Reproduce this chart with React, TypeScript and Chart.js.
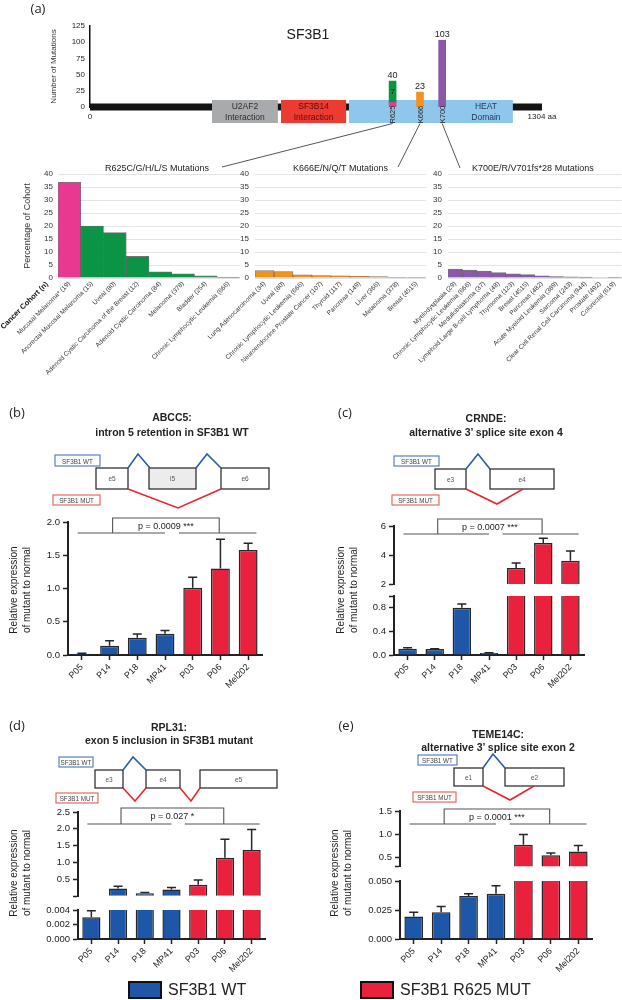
import React, { useEffect, useRef } from "react";
import { Chart, registerables } from "chart.js";

Chart.register(...registerables);

const SANS = "'Liberation Sans', Arial, Helvetica, sans-serif";
Chart.defaults.font.family = SANS;
Chart.defaults.color = "#222";

/* ---------------- (a) SF3B1 protein map ---------------- */
const proteinLengthAa = 1304;
const mutationAxisTicks = [0, 25, 50, 75, 100, 125];
const hotspotLabels = ["R625", "K666", "K700"];
const hotspotDiagramPos = [873, 952, 1016];
const hotspotCounts = [40, 23, 103];
const r625MucosalMelanomaCount = 7;
const domainTitles = ["U2AF2", "SF3B14", "HEAT"];
const domainSubtitles = ["Interaction", "Interaction", "Domain"];
const domainStart = [352, 551, 747];
const domainEnd = [542, 739, 1220];

/* ---------------- (a) cohort frequencies ---------------- */
const cohortTicks = [0, 5, 10, 15, 20, 25, 30, 35, 40];
const r625Cohorts = [
  "Mucosal Melanoma* (19)",
  "Anorectal Mucosal Melanoma (15)",
  "Uveal (80)",
  "Adenoid Cystic Carcinoma of the Breast (12)",
  "Adenoid Cystic Carcinoma (84)",
  "Melanoma (378)",
  "Bladder (254)",
  "Chronic Lymphocytic Leukemia (666)",
];
const r625Percent = [36.8, 20.0, 17.5, 8.3, 2.4, 1.6, 0.8, 0.3];
const k666Cohorts = [
  "Lung Adenocarcinoma (34)",
  "Uveal (80)",
  "Chronic Lymphocytic Leukemia (666)",
  "Neuroendocrine Prostate Cancer (107)",
  "Thyroid (117)",
  "Pancreas (149)",
  "Liver (366)",
  "Melanoma (378)",
  "Breast (4515)",
];
const k666Percent = [2.9, 2.5, 1.2, 0.93, 0.85, 0.67, 0.55, 0.26, 0.09];
const k700Cohorts = [
  "Myelodysplasia (29)",
  "Chronic Lymphocytic Leukemia (666)",
  "Medulloblastoma (37)",
  "Lymphoid Large B-cell Lymphoma (48)",
  "Thymoma (123)",
  "Breast (4515)",
  "Pancreas (482)",
  "Acute Myeloid Leukemia (389)",
  "Sarcoma (243)",
  "Clear Cell Renal Cell Carcinoma (944)",
  "Prostate (492)",
  "Colorectal (619)",
];
const k700Percent = [3.4, 3.0, 2.7, 2.1, 1.6, 1.3, 0.83, 0.51, 0.41, 0.32, 0.2, 0.16];

/* ---------------- (b)-(e) qPCR ---------------- */
const cellLines = ["P05", "P14", "P18", "MP41", "P03", "P06", "Mel202"];
const genotype = ["WT", "WT", "WT", "WT", "MUT", "MUT", "MUT"];

const abcc5Mean = [0.02, 0.14, 0.26, 0.32, 1.01, 1.3, 1.58];
const abcc5Err = [0.006, 0.075, 0.055, 0.05, 0.16, 0.44, 0.1];
const abcc5Ticks = [0, 0.5, 1.0, 1.5, 2.0];
const abcc5TickLabels = ["0.0", "0.5", "1.0", "1.5", "2.0"];
const abcc5P = "p = 0.0009 ***";

const crndeMean = [0.105, 0.1, 0.8, 0.035, 3.1, 4.83, 3.6];
const crndeErr = [0.02, 0.008, 0.065, 0.005, 0.35, 0.32, 0.68];
const crndeUpperTicks = [2, 4, 6];
const crndeUpperTickLabels = ["2", "4", "6"];
const crndeLowerTicks = [0, 0.4, 0.8, 1.0];
const crndeLowerTickLabels = ["0.0", "0.4", "0.8", ""];
const crndeP = "p = 0.0007 ***";

const rpl31Mean = [0.003, 0.23, 0.09, 0.2, 0.34, 1.14, 1.37];
const rpl31Err = [0.0009, 0.07, 0.02, 0.06, 0.14, 0.55, 0.61];
const rpl31UpperTicks = [0, 0.5, 1.0, 1.5, 2.0, 2.5];
const rpl31UpperTickLabels = ["", "0.5", "1.0", "1.5", "2.0", "2.5"];
const rpl31LowerTicks = [0, 0.002, 0.004];
const rpl31LowerTickLabels = ["0.000", "0.002", "0.004"];
const rpl31P = "p = 0.027 *";

const teme14cMean = [0.0195, 0.023, 0.037, 0.039, 0.77, 0.54, 0.62];
const teme14cErr = [0.0035, 0.005, 0.002, 0.007, 0.22, 0.05, 0.13];
const teme14cUpperTicks = [0.3, 0.5, 1.0, 1.5];
const teme14cUpperTickLabels = ["", "0.5", "1.0", "1.5"];
const teme14cLowerTicks = [0, 0.025, 0.05];
const teme14cLowerTickLabels = ["0.000", "0.025", "0.050"];
const teme14cP = "p = 0.0001 ***";

/* ---------------- styles ---------------- */
const BLUE = "#1f57a8";
const RED = "#e9213d";
const PINK = "#e8388f";
const GREEN = "#0b9446";
const ORANGE = "#f3931f";
const PURPLE = "#8b57aa";
const DOMAIN_FILL = ["#a8aaad", "#ec3b30", "#8fc7ec"];
const DOMAIN_TEXT = ["#2e2e2e", "#5c0d0d", "#1f3650"];

type Box = { left: number; top: number; width: number; height: number };
type Area = { l: number; t: number; r: number; b: number };

function spacing(box: Box, a: Area) {
  return {
    yW: a.l - box.left,
    pt: a.t - box.top,
    pr: box.left + box.width - a.r,
    pb: box.top + box.height - a.b,
  };
}

function ChartCanvas({ box, build }: { box: Box; build: () => any }) {
  const ref = useRef<HTMLCanvasElement | null>(null);
  useEffect(() => {
    if (!ref.current) return;
    const chart = new Chart(ref.current, build());
    return () => chart.destroy();
  }, []);
  return (
    <canvas
      ref={ref}
      width={box.width}
      height={box.height}
      style={{ position: "absolute", left: box.left, top: box.top, width: box.width, height: box.height }}
    />
  );
}

/* ---------------- plugins ---------------- */
const proteinMapPlugin = {
  id: "proteinMap",
  beforeDatasetsDraw(chart: any) {
    const { ctx } = chart;
    const xs = chart.scales.x;
    const ys = chart.scales.y;
    const y0 = ys.getPixelForValue(0);
    ctx.save();
    ctx.fillStyle = "#141414";
    const bx0 = xs.getPixelForValue(0);
    const bx1 = xs.getPixelForValue(proteinLengthAa);
    ctx.fillRect(bx0, y0 - 3.5, bx1 - bx0, 7);
    domainStart.forEach((s, i) => {
      const x0 = xs.getPixelForValue(s);
      const x1 = xs.getPixelForValue(domainEnd[i]);
      ctx.fillStyle = DOMAIN_FILL[i];
      ctx.fillRect(x0, y0 - 7, x1 - x0, 23);
    });
    ctx.restore();
  },
  afterDatasetsDraw(chart: any) {
    const { ctx } = chart;
    const xs = chart.scales.x;
    const ys = chart.scales.y;
    const y0 = ys.getPixelForValue(0);
    ctx.save();
    ctx.textAlign = "center";
    ctx.textBaseline = "middle";
    domainStart.forEach((s, i) => {
      const cx = (xs.getPixelForValue(s) + xs.getPixelForValue(domainEnd[i])) / 2;
      ctx.fillStyle = DOMAIN_TEXT[i];
      ctx.font = `8.5px ${SANS}`;
      ctx.fillText(domainTitles[i], cx + (i === 2 ? 55 : 0), y0 - 0.5);
      ctx.fillText(domainSubtitles[i], cx + (i === 2 ? 55 : 0), y0 + 10.5);
    });
    hotspotDiagramPos.forEach((p, i) => {
      const x = xs.getPixelForValue(p);
      ctx.save();
      ctx.translate(x, y0 + 7.5);
      ctx.rotate(-Math.PI / 2);
      ctx.fillStyle = "#222";
      ctx.font = `7.5px ${SANS}`;
      ctx.fillText(hotspotLabels[i], 0, 0.5);
      ctx.restore();
      ctx.font = `9px ${SANS}`;
      ctx.fillStyle = "#222";
      ctx.textBaseline = "bottom";
      ctx.fillText(String(hotspotCounts[i]), x, ys.getPixelForValue(hotspotCounts[i]) - 1.5);
      ctx.textBaseline = "middle";
    });
    const xr = xs.getPixelForValue(hotspotDiagramPos[0]);
    ctx.font = `8px ${SANS}`;
    ctx.fillStyle = "#111";
    ctx.fillText(
      String(r625MucosalMelanomaCount),
      xr,
      ys.getPixelForValue((r625MucosalMelanomaCount + hotspotCounts[0]) / 2)
    );
    ctx.font = `14px ${SANS}`;
    ctx.fillStyle = "#1a1a1a";
    ctx.fillText("SF3B1", 308, 35);
    const targets = [
      [222, 167],
      [398, 167],
      [460, 168],
    ];
    ctx.strokeStyle = "#555";
    ctx.lineWidth = 1;
    hotspotDiagramPos.forEach((p, i) => {
      ctx.beginPath();
      ctx.moveTo(xs.getPixelForValue(p), y0 + 16.5);
      ctx.lineTo(targets[i][0], targets[i][1]);
      ctx.stroke();
    });
    ctx.restore();
  },
};

const cohortPanelPlugin = {
  id: "cohortPanel",
  afterDraw(chart: any, _a: any, o: any) {
    const { ctx, chartArea } = chart;
    ctx.save();
    ctx.font = `9px ${SANS}`;
    ctx.fillStyle = "#222";
    ctx.textAlign = "center";
    ctx.textBaseline = "middle";
    ctx.fillText(o.title, (chartArea.left + chartArea.right) / 2 + o.dx, chartArea.top - 5);
    if (o.axisLabel) {
      ctx.translate(chartArea.left - 11, chartArea.bottom + 5);
      ctx.rotate(-Math.PI / 4);
      ctx.font = `bold 7.5px ${SANS}`;
      ctx.textAlign = "right";
      ctx.fillStyle = "#111";
      ctx.fillText(o.axisLabel, 0, 0);
    }
    ctx.restore();
  },
};

const errorBarPlugin = {
  id: "errBars",
  afterDatasetsDraw(chart: any, _a: any, o: any) {
    if (!o || !o.errors) return;
    const { ctx, chartArea } = chart;
    const ys = chart.scales.y;
    const meta = chart.getDatasetMeta(0);
    const data = chart.data.datasets[0].data;
    ctx.save();
    ctx.beginPath();
    ctx.rect(chartArea.left, chartArea.top - 1, chartArea.right - chartArea.left, chartArea.bottom - chartArea.top + 1);
    ctx.clip();
    ctx.strokeStyle = "#262626";
    ctx.lineWidth = 1.5;
    meta.data.forEach((bar: any, i: number) => {
      const v = data[i];
      if (v == null) return;
      const e = o.errors[i];
      const x = bar.x;
      const ya = ys.getPixelForValue(v);
      const yb = ys.getPixelForValue(v + e);
      ctx.beginPath();
      ctx.moveTo(x, ya);
      ctx.lineTo(x, yb);
      ctx.moveTo(x - 4.5, yb);
      ctx.lineTo(x + 4.5, yb);
      ctx.stroke();
    });
    ctx.restore();
  },
};

const bracketPlugin = {
  id: "sigBracket",
  afterDraw(chart: any, _a: any, o: any) {
    if (!o || !o.text) return;
    const xs = chart.scales.x;
    const { ctx, chartArea } = chart;
    const wtIdx = genotype.map((g, i) => (g === "WT" ? i : -1)).filter((i) => i >= 0);
    const mutIdx = genotype.map((g, i) => (g !== "WT" ? i : -1)).filter((i) => i >= 0);
    const slot = xs.getPixelForValue(1) - xs.getPixelForValue(0);
    const w0 = xs.getPixelForValue(wtIdx[0]) - slot * 0.15;
    const w1 = xs.getPixelForValue(wtIdx[wtIdx.length - 1]);
    const m0 = xs.getPixelForValue(mutIdx[0]) - slot * 0.5;
    const m1 = xs.getPixelForValue(mutIdx[mutIdx.length - 1]) + slot * 0.3;
    const yl = chartArea.top + o.lineDy;
    const yt = chartArea.top + o.topDy;
    const b0 = w0 + (w1 - w0) * 0.4;
    const b1 = m0 + (m1 - m0) * 0.52;
    ctx.save();
    ctx.strokeStyle = "#555";
    ctx.lineWidth = 1.1;
    ctx.beginPath();
    ctx.moveTo(w0, yl);
    ctx.lineTo(w1, yl);
    ctx.moveTo(m0, yl);
    ctx.lineTo(m1, yl);
    ctx.moveTo(b0, yl);
    ctx.lineTo(b0, yt);
    ctx.lineTo(b1, yt);
    ctx.lineTo(b1, yl);
    ctx.stroke();
    ctx.fillStyle = "#222";
    ctx.font = `9px ${SANS}`;
    ctx.textAlign = "center";
    ctx.textBaseline = "middle";
    ctx.fillText(o.text, (b0 + b1) / 2, (yl + yt) / 2 + 1);
    ctx.restore();
  },
};

/* ---------------- chart builders ---------------- */
function proteinConfig() {
  return {
    type: "bar",
    data: {
      datasets: [
        { data: [{ x: hotspotDiagramPos[0], y: [0, r625MucosalMelanomaCount] }], backgroundColor: PINK },
        { data: [{ x: hotspotDiagramPos[0], y: [r625MucosalMelanomaCount, hotspotCounts[0]] }], backgroundColor: GREEN },
        { data: [{ x: hotspotDiagramPos[1], y: [0, hotspotCounts[1]] }], backgroundColor: ORANGE },
        { data: [{ x: hotspotDiagramPos[2], y: [0, hotspotCounts[2]] }], backgroundColor: PURPLE },
      ],
    },
    options: {
      responsive: false,
      animation: false,
      events: [],
      datasets: { bar: { grouped: false, barThickness: 7, borderWidth: 0 } },
      layout: { padding: { left: 0, top: 26, right: 80, bottom: 45 } },
      plugins: { legend: { display: false }, tooltip: { enabled: false } },
      scales: {
        x: {
          type: "linear",
          offset: false,
          min: 0,
          max: proteinLengthAa,
          afterBuildTicks: (s: any) => {
            s.ticks = [{ value: 0 }, { value: proteinLengthAa }];
          },
          afterFit: (s: any) => {
            s.height = 20;
          },
          ticks: {
            callback: (v: any) => (v === proteinLengthAa ? `${proteinLengthAa} aa` : String(v)),
            font: { size: 8 },
            color: "#222",
            padding: 5,
          },
          grid: { display: false, drawTicks: false, offset: false },
          border: { display: false },
        },
        y: {
          min: 0,
          max: 125,
          afterBuildTicks: (s: any) => {
            s.ticks = mutationAxisTicks.map((v) => ({ value: v }));
          },
          afterFit: (s: any) => {
            s.width = 90;
          },
          ticks: { font: { size: 8 }, color: "#222", padding: 5 },
          grid: { display: false, drawTicks: false },
          border: { display: true, color: "#111", width: 1.5 },
          title: {
            display: true,
            text: "Number of Mutations",
            font: { size: 8 },
            color: "#333",
            padding: { top: 49, bottom: 0 },
          },
        },
      },
    },
    plugins: [proteinMapPlugin],
  };
}

function cohortConfig(
  box: Box,
  area: Area,
  labels: string[],
  values: number[],
  colors: string[],
  title: string,
  dx: number,
  tickPad: number,
  yTitle: string | null,
  axisLabel: string
) {
  const s = spacing(box, area);
  return {
    type: "bar",
    data: {
      labels,
      datasets: [
        {
          data: values,
          backgroundColor: colors,
          borderColor: "rgba(25,25,25,0.6)",
          borderWidth: 0.8,
          barPercentage: 1,
          categoryPercentage: 1,
        },
      ],
    },
    options: {
      responsive: false,
      animation: false,
      events: [],
      layout: { padding: { left: 0, top: s.pt, right: s.pr, bottom: 0 } },
      plugins: {
        legend: { display: false },
        tooltip: { enabled: false },
        cohortPanel: { title, dx, axisLabel },
      },
      scales: {
        x: {
          afterFit: (sc: any) => {
            sc.height = s.pb;
          },
          grid: { display: false, drawTicks: false },
          border: { display: false },
          ticks: {
            font: { size: 6.5 },
            color: "#333",
            minRotation: 45,
            maxRotation: 45,
            autoSkip: false,
            padding: 2,
          },
        },
        y: {
          min: 0,
          max: 40,
          afterBuildTicks: (sc: any) => {
            sc.ticks = cohortTicks.map((v) => ({ value: v }));
          },
          afterFit: (sc: any) => {
            sc.width = s.yW;
          },
          grid: { color: "#e4e4e4", drawTicks: false },
          border: { display: false },
          ticks: { font: { size: 8 }, color: "#333", padding: tickPad },
          title: yTitle
            ? { display: true, text: yTitle, font: { size: 9 }, color: "#333", padding: { top: 22, bottom: 0 } }
            : { display: false },
        },
      },
    },
    plugins: [cohortPanelPlugin],
  };
}

function exprConfig(p: {
  box: Box;
  area: Area;
  values: (number | null)[];
  errors: number[];
  min: number;
  max: number;
  ticks: number[];
  tickLabels: string[];
  showX: boolean;
  bracket?: { text: string; lineDy: number; topDy: number };
}) {
  const s = spacing(p.box, p.area);
  const x: any = {
    display: p.showX,
    grid: { display: true, offset: false, drawOnChartArea: false, tickLength: 5, tickWidth: 1.5, tickColor: "#222" },
    border: { display: true, color: "#222", width: 2 },
    ticks: { font: { size: 9 }, color: "#222", minRotation: 45, maxRotation: 45, autoSkip: false, padding: 2 },
  };
  if (p.showX) {
    x.afterFit = (sc: any) => {
      sc.height = s.pb;
    };
  }
  return {
    type: "bar",
    data: {
      labels: cellLines,
      datasets: [
        {
          data: p.values,
          backgroundColor: genotype.map((g) => (g === "WT" ? BLUE : RED)),
          borderColor: "#262626",
          borderWidth: 1.5,
          barPercentage: 0.68,
          categoryPercentage: 1,
        },
      ],
    },
    options: {
      responsive: false,
      animation: false,
      events: [],
      layout: { padding: { left: 0, top: s.pt, right: s.pr, bottom: p.showX ? 0 : s.pb } },
      plugins: {
        legend: { display: false },
        tooltip: { enabled: false },
        errBars: { errors: p.errors },
        sigBracket: p.bracket || { text: "" },
      },
      scales: {
        x,
        y: {
          min: p.min,
          max: p.max,
          afterBuildTicks: (sc: any) => {
            sc.ticks = p.ticks.map((v) => ({ value: v }));
          },
          afterFit: (sc: any) => {
            sc.width = s.yW;
          },
          ticks: {
            callback: (_v: any, i: number) => p.tickLabels[i] ?? "",
            font: { size: 9.5 },
            color: "#222",
            padding: 3,
          },
          grid: { display: true, drawOnChartArea: false, tickLength: 5, tickWidth: 1.5, tickColor: "#222" },
          border: { display: true, color: "#222", width: 2 },
        },
      },
    },
    plugins: [errorBarPlugin, bracketPlugin],
  };
}

const aboveBreak = (vals: number[], breakAt: number) => vals.map((v) => (v > breakAt ? v : null));

/* ---------------- layout ---------------- */
const boxes = {
  protein: { left: 0, top: 0, width: 622, height: 172 },
  r625: { left: 0, top: 150, width: 250, height: 240 },
  k666: { left: 200, top: 150, width: 232, height: 240 },
  k700: { left: 378, top: 150, width: 244, height: 240 },
  b: { left: 20, top: 505, width: 262, height: 200 },
  cU: { left: 350, top: 505, width: 252, height: 90 },
  cL: { left: 350, top: 585, width: 252, height: 120 },
  dU: { left: 30, top: 795, width: 250, height: 110 },
  dL: { left: 30, top: 900, width: 250, height: 100 },
  eU: { left: 350, top: 795, width: 262, height: 80 },
  eL: { left: 350, top: 872, width: 262, height: 128 },
};

const geneDiagrams = [
  {
    wt: [55, 455, 45, 11],
    mut: [53, 495, 47, 10],
    top: 468,
    bottom: 489,
    exons: [
      { x0: 96, x1: 128, name: "e5", shaded: false },
      { x0: 149, x1: 196, name: "i5", shaded: true },
      { x0: 221, x1: 269, name: "e6", shaded: false },
    ],
    blue: ["128,468 138,454 150,468", "196,468 207,454 221,468"],
    red: ["128,489 178,508 221,489"],
  },
  {
    wt: [394, 456, 45, 10],
    mut: [392, 495, 47, 10],
    top: 469,
    bottom: 489,
    exons: [
      { x0: 435, x1: 466, name: "e3", shaded: false },
      { x0: 490, x1: 554, name: "e4", shaded: false },
    ],
    blue: ["466,469 478,454 490,469"],
    red: ["466,489 497,504 523,489"],
  },
  {
    wt: [59, 757, 34, 10],
    mut: [56, 793, 42, 10],
    top: 770,
    bottom: 788,
    exons: [
      { x0: 95, x1: 123, name: "e3", shaded: false },
      { x0: 146, x1: 180, name: "e4", shaded: false },
      { x0: 200, x1: 277, name: "e5", shaded: false },
    ],
    blue: ["123,770 133,757 146,770"],
    red: ["123,788 135,801 146,788", "180,788 191,801 200,788"],
  },
  {
    wt: [418, 755, 39, 10],
    mut: [413, 792, 43, 10],
    top: 768,
    bottom: 786,
    exons: [
      { x0: 454, x1: 483, name: "e1", shaded: false },
      { x0: 505, x1: 564, name: "e2", shaded: false },
    ],
    blue: ["483,768 493,754 505,768"],
    red: ["483,786 510,800 534,786"],
  },
];

function Txt(props: {
  x: number;
  y: number;
  size: number;
  children: any;
  align?: "center" | "left" | "right";
  weight?: number;
  family?: string;
  color?: string;
}) {
  const { x, y, size, children, align = "center", weight = 400, family = SANS, color = "#222" } = props;
  const w = 400;
  const left = align === "center" ? x - w / 2 : align === "left" ? x : x - w;
  return (
    <div
      style={{
        position: "absolute",
        left,
        top: y - size * 0.6,
        width: w,
        textAlign: align,
        fontSize: size,
        lineHeight: `${size * 1.2}px`,
        fontWeight: weight,
        fontFamily: family,
        color,
        whiteSpace: "nowrap",
      }}
    >
      {children}
    </div>
  );
}

function YTitle({ cx, cy }: { cx: number; cy: number }) {
  return (
    <div
      style={{
        position: "absolute",
        left: cx - 80,
        top: cy - 13,
        width: 160,
        height: 26,
        transform: "rotate(-90deg)",
        textAlign: "center",
        fontFamily: SANS,
        fontSize: 10,
        lineHeight: "13px",
        color: "#222",
        whiteSpace: "nowrap",
      }}
    >
      Relative expression
      <br />
      of mutant to normal
    </div>
  );
}

function PanelTitle({ cx, y1, y2, l1, l2 }: { cx: number; y1: number; y2: number; l1: string; l2: string }) {
  return (
    <>
      <Txt x={cx} y={y1} size={10.5} weight={700}>
        {l1}
      </Txt>
      <Txt x={cx} y={y2} size={10.5} weight={700}>
        {l2}
      </Txt>
    </>
  );
}

const LETTER_FONT = "'Open Sans', 'DejaVu Sans', sans-serif";

export default function App() {
  return (
    <div
      style={{
        position: "absolute",
        left: 0,
        top: 0,
        width: 622,
        height: 1000,
        background: "#fff",
        overflow: "hidden",
        fontFamily: SANS,
      }}
    >
      <ChartCanvas box={boxes.protein} build={proteinConfig} />
      <ChartCanvas
        box={boxes.r625}
        build={() =>
          cohortConfig(
            boxes.r625,
            { l: 58, t: 174, r: 240, b: 278 },
            r625Cohorts,
            r625Percent,
            r625Percent.map((_v, i) => (i === 0 ? PINK : GREEN)),
            "R625C/G/H/L/S Mutations",
            8,
            5,
            "Percentage of Cohort",
            "Cancer Cohort (n)"
          )
        }
      />
      <ChartCanvas
        box={boxes.k666}
        build={() =>
          cohortConfig(
            boxes.k666,
            { l: 255, t: 174, r: 426, b: 278 },
            k666Cohorts,
            k666Percent,
            k666Percent.map(() => ORANGE),
            "K666E/N/Q/T Mutations",
            0,
            6,
            null,
            ""
          )
        }
      />
      <ChartCanvas
        box={boxes.k700}
        build={() =>
          cohortConfig(
            boxes.k700,
            { l: 448, t: 174, r: 622, b: 278 },
            k700Cohorts,
            k700Percent,
            k700Percent.map(() => PURPLE),
            "K700E/R/V701fs*28 Mutations",
            -2,
            6,
            null,
            ""
          )
        }
      />

      <ChartCanvas
        box={boxes.b}
        build={() =>
          exprConfig({
            box: boxes.b,
            area: { l: 68, t: 522, r: 262, b: 655 },
            values: abcc5Mean,
            errors: abcc5Err,
            min: 0,
            max: 2.0,
            ticks: abcc5Ticks,
            tickLabels: abcc5TickLabels,
            showX: true,
            bracket: { text: abcc5P, lineDy: 11, topDy: -4 },
          })
        }
      />
      <ChartCanvas
        box={boxes.cU}
        build={() =>
          exprConfig({
            box: boxes.cU,
            area: { l: 394, t: 526, r: 584, b: 584 },
            values: aboveBreak(crndeMean, crndeLowerTicks[crndeLowerTicks.length - 1]),
            errors: crndeErr,
            min: crndeUpperTicks[0],
            max: crndeUpperTicks[crndeUpperTicks.length - 1],
            ticks: crndeUpperTicks,
            tickLabels: crndeUpperTickLabels,
            showX: false,
            bracket: { text: crndeP, lineDy: 8, topDy: -7 },
          })
        }
      />
      <ChartCanvas
        box={boxes.cL}
        build={() =>
          exprConfig({
            box: boxes.cL,
            area: { l: 394, t: 596, r: 584, b: 655 },
            values: crndeMean,
            errors: crndeErr,
            min: 0,
            max: crndeLowerTicks[crndeLowerTicks.length - 1],
            ticks: crndeLowerTicks,
            tickLabels: crndeLowerTickLabels,
            showX: true,
          })
        }
      />
      <ChartCanvas
        box={boxes.dU}
        build={() =>
          exprConfig({
            box: boxes.dU,
            area: { l: 78, t: 812, r: 265, b: 898 },
            values: aboveBreak(rpl31Mean, rpl31LowerTicks[rpl31LowerTicks.length - 1]),
            errors: rpl31Err,
            min: rpl31UpperTicks[0],
            max: rpl31UpperTicks[rpl31UpperTicks.length - 1],
            ticks: rpl31UpperTicks,
            tickLabels: rpl31UpperTickLabels,
            showX: false,
            bracket: { text: rpl31P, lineDy: 12, topDy: -4 },
          })
        }
      />
      <ChartCanvas
        box={boxes.dL}
        build={() =>
          exprConfig({
            box: boxes.dL,
            area: { l: 78, t: 910, r: 265, b: 939 },
            values: rpl31Mean,
            errors: rpl31Err,
            min: 0,
            max: rpl31LowerTicks[rpl31LowerTicks.length - 1],
            ticks: rpl31LowerTicks,
            tickLabels: rpl31LowerTickLabels,
            showX: true,
          })
        }
      />
      <ChartCanvas
        box={boxes.eU}
        build={() =>
          exprConfig({
            box: boxes.eU,
            area: { l: 400, t: 811, r: 592, b: 868 },
            values: aboveBreak(teme14cMean, teme14cLowerTicks[teme14cLowerTicks.length - 1]),
            errors: teme14cErr,
            min: teme14cUpperTicks[0],
            max: teme14cUpperTicks[teme14cUpperTicks.length - 1],
            ticks: teme14cUpperTicks,
            tickLabels: teme14cUpperTickLabels,
            showX: false,
            bracket: { text: teme14cP, lineDy: 13, topDy: -2 },
          })
        }
      />
      <ChartCanvas
        box={boxes.eL}
        build={() =>
          exprConfig({
            box: boxes.eL,
            area: { l: 400, t: 881, r: 592, b: 939 },
            values: teme14cMean,
            errors: teme14cErr,
            min: 0,
            max: teme14cLowerTicks[teme14cLowerTicks.length - 1],
            ticks: teme14cLowerTicks,
            tickLabels: teme14cLowerTickLabels,
            showX: true,
          })
        }
      />

      <svg width={622} height={1000} style={{ position: "absolute", left: 0, top: 0, pointerEvents: "none" }}>
        {geneDiagrams.map((d, k) => (
          <g key={k}>
            <rect x={d.wt[0]} y={d.wt[1]} width={d.wt[2]} height={d.wt[3]} fill="#fff" stroke="#4a76bb" strokeWidth={1.1} />
            <text
              x={d.wt[0] + d.wt[2] / 2}
              y={d.wt[1] + d.wt[3] / 2 + 0.5}
              fontSize={6.3}
              fill="#444"
              textAnchor="middle"
              dominantBaseline="central"
              fontFamily={SANS}
            >
              SF3B1 WT
            </text>
            <rect x={d.mut[0]} y={d.mut[1]} width={d.mut[2]} height={d.mut[3]} fill="#fff" stroke="#ea5a52" strokeWidth={1.1} />
            <text
              x={d.mut[0] + d.mut[2] / 2}
              y={d.mut[1] + d.mut[3] / 2 + 0.5}
              fontSize={6.3}
              fill="#444"
              textAnchor="middle"
              dominantBaseline="central"
              fontFamily={SANS}
            >
              SF3B1 MUT
            </text>
            {d.exons.map((e, j) => (
              <g key={j}>
                <rect
                  x={e.x0}
                  y={d.top}
                  width={e.x1 - e.x0}
                  height={d.bottom - d.top}
                  fill={e.shaded ? "#ececec" : "#fff"}
                  stroke="#222"
                  strokeWidth={1.2}
                />
                <text
                  x={(e.x0 + e.x1) / 2}
                  y={(d.top + d.bottom) / 2}
                  fontSize={6.5}
                  fill="#555"
                  textAnchor="middle"
                  dominantBaseline="central"
                  fontFamily={SANS}
                >
                  {e.name}
                </text>
              </g>
            ))}
            {d.blue.map((pts, j) => (
              <polyline key={"b" + j} points={pts} fill="none" stroke="#2a5caa" strokeWidth={1.6} />
            ))}
            {d.red.map((pts, j) => (
              <polyline key={"r" + j} points={pts} fill="none" stroke="#e8262e" strokeWidth={1.6} />
            ))}
          </g>
        ))}
      </svg>

      <Txt x={38} y={9} size={13} family={LETTER_FONT}>
        (a)
      </Txt>
      <Txt x={17} y={413} size={13} family={LETTER_FONT}>
        (b)
      </Txt>
      <Txt x={345} y={413} size={13} family={LETTER_FONT}>
        (c)
      </Txt>
      <Txt x={17} y={726} size={13} family={LETTER_FONT}>
        (d)
      </Txt>
      <Txt x={346} y={726} size={13} family={LETTER_FONT}>
        (e)
      </Txt>

      <PanelTitle cx={172} y1={417} y2={432} l1="ABCC5:" l2="intron 5 retention in SF3B1 WT" />
      <PanelTitle cx={486} y1={418} y2={432} l1="CRNDE:" l2="alternative 3’ splice site exon 4" />
      <PanelTitle cx={169} y1={727} y2={740} l1="RPL31:" l2="exon 5 inclusion in SF3B1 mutant" />
      <PanelTitle cx={498} y1={734} y2={747} l1="TEME14C:" l2="alternative 3’ splice site exon 2" />

      <YTitle cx={19.5} cy={590} />
      <YTitle cx={346.5} cy={590} />
      <YTitle cx={19.5} cy={873} />
      <YTitle cx={341} cy={873} />

      <div
        style={{
          position: "absolute",
          left: 128,
          top: 981,
          width: 34,
          height: 18,
          background: BLUE,
          border: "2px solid #111",
          boxSizing: "border-box",
        }}
      />
      <Txt x={168} y={990} size={16} align="left">
        SF3B1 WT
      </Txt>
      <div
        style={{
          position: "absolute",
          left: 360,
          top: 981,
          width: 34,
          height: 18,
          background: RED,
          border: "2px solid #111",
          boxSizing: "border-box",
        }}
      />
      <Txt x={400} y={990} size={16} align="left">
        SF3B1 R625 MUT
      </Txt>
    </div>
  );
}
